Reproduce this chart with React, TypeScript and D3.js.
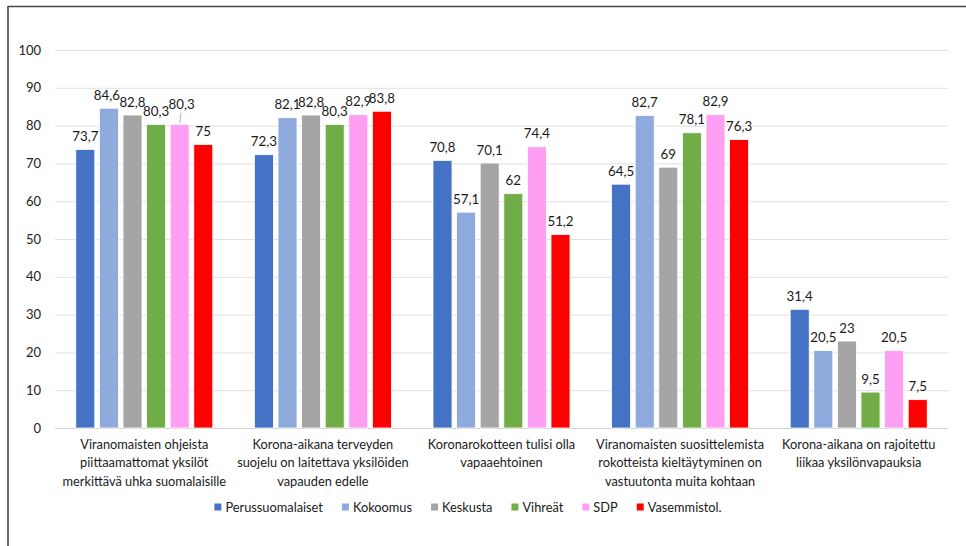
import React, { useEffect, useRef } from "react";
import * as d3 from "d3";

const categories: string[][] = [
  ["Viranomaisten ohjeista", "piittaamattomat yksilöt", "merkittävä uhka suomalaisille"],
  ["Korona-aikana terveyden", "suojelu on laitettava yksilöiden", "vapauden edelle"],
  ["Koronarokotteen tulisi olla", "vapaaehtoinen"],
  ["Viranomaisten suosittelemista", "rokotteista kieltäytyminen on", "vastuutonta muita kohtaan"],
  ["Korona-aikana on rajoitettu", "liikaa yksilönvapauksia"],
];

const seriesNames = ["Perussuomalaiset", "Kokoomus", "Keskusta", "Vihreät", "SDP", "Vasemmistol."];
const seriesColors = ["#4472C4", "#8FAADC", "#A5A5A5", "#70AD47", "#FF9FF3", "#FF0000"];

const perussuomalaiset = [73.7, 72.3, 70.8, 64.5, 31.4];
const kokoomus = [84.6, 82.1, 57.1, 82.7, 20.5];
const keskusta = [82.8, 82.8, 70.1, 69, 23];
const vihreat = [80.3, 80.3, 62, 78.1, 9.5];
const sdp = [80.3, 82.9, 74.4, 82.9, 20.5];
const vasemmisto = [75, 83.8, 51.2, 76.3, 7.5];

const seriesValues = [perussuomalaiset, kokoomus, keskusta, vihreat, sdp, vasemmisto];
const yTicks = [0, 10, 20, 30, 40, 50, 60, 70, 80, 90, 100];

const FONT = "Lato, 'Open Sans', sans-serif";

export default function App() {
  const ref = useRef<SVGSVGElement>(null);

  useEffect(() => {
    const svg = d3.select(ref.current);
    svg.selectAll("*").remove();

    const left = 55, right = 948, top = 50, bottom = 428;
    const y = d3.scaleLinear().domain([0, 100]).range([bottom, top]);
    const x0 = d3.scaleBand<number>().domain(d3.range(categories.length)).range([left, right]).padding(0);
    const gw = x0.bandwidth();
    const x1 = d3.scaleBand<number>().domain(d3.range(seriesNames.length)).range([20.8, gw - 20.8]).paddingInner(0.195).paddingOuter(0);

    // frame
    svg.append("line").attr("x1", 8).attr("x2", 8).attr("y1", 6).attr("y2", 546).attr("stroke", "#4a4a4a").attr("stroke-width", 1.6);
    svg.append("line").attr("x1", 8).attr("x2", 966).attr("y1", 6.5).attr("y2", 6.5).attr("stroke", "#4a4a4a").attr("stroke-width", 1.6);

    // grid
    const g = svg.append("g");
    g.selectAll("line.grid").data(yTicks).enter().append("line")
      .attr("x1", left).attr("x2", right)
      .attr("y1", (d) => y(d) + 0.5).attr("y2", (d) => y(d) + 0.5)
      .attr("stroke", (d) => (d === 0 ? "#d0d0d0" : "#e0e0e0")).attr("stroke-width", 1);
    g.selectAll("text.tick").data(yTicks).enter().append("text")
      .attr("x", 41).attr("y", (d) => y(d) + 4.5)
      .attr("text-anchor", "end").attr("font-family", FONT).attr("font-size", 13).attr("fill", "#222")
      .text((d) => String(d));

    // bars
    seriesValues.forEach((vals, si) => {
      const sg = svg.append("g");
      sg.selectAll("rect").data(vals).enter().append("rect")
        .attr("x", (_, ci) => x0(ci)! + x1(si)!)
        .attr("y", (d) => y(d))
        .attr("width", x1.bandwidth())
        .attr("height", (d) => bottom - y(d))
        .attr("fill", seriesColors[si])
        .attr("stroke", "#ffffff").attr("stroke-width", 0.8);
    });

    // labels
    seriesValues.forEach((vals, si) => {
      vals.forEach((v, ci) => {
        const cx = x0(ci)! + x1(si)! + x1.bandwidth() / 2;
        let dy = 0;
        let dx = 0;
        const crowded = ci === 0 && si === 4;
        if (crowded) { dy = -7; dx = 2; }
        if (ci === 0 && si === 1) dx = -2;
        svg.append("text")
          .attr("x", cx + dx).attr("y", y(v) - 8.5 + dy)
          .attr("text-anchor", "middle").attr("font-family", FONT).attr("font-size", 13.3).attr("fill", "#1a1a1a")
          .text(String(v).replace(".", ","));
        if (crowded) {
          svg.append("line")
            .attr("x1", cx + 1.5).attr("y1", y(v) - 12)
            .attr("x2", cx).attr("y2", y(v) - 1)
            .attr("stroke", "#a6a6a6").attr("stroke-width", 0.8);
        }
      });
    });

    // category labels
    categories.forEach((lines, ci) => {
      const cx = x0(ci)! + gw / 2;
      lines.forEach((line, li) => {
        svg.append("text")
          .attr("x", cx).attr("y", 449 + li * 18.3)
          .attr("text-anchor", "middle").attr("font-family", FONT).attr("font-size", 12.8).attr("fill", "#1a1a1a")
          .text(line);
      });
    });

    // legend
    const lg = svg.append("g");
    const items: { g: any; w: number }[] = [];
    seriesNames.forEach((name, si) => {
      const ig = lg.append("g");
      ig.append("rect").attr("x", 0).attr("y", -3.5).attr("width", 7).attr("height", 7).attr("fill", seriesColors[si]);
      const t = ig.append("text").attr("x", 11).attr("y", 4.8)
        .attr("font-family", FONT).attr("font-size", 12.8).attr("fill", "#1a1a1a").text(name);
      const w = 11 + (t.node() as SVGTextElement).getComputedTextLength();
      items.push({ g: ig, w });
    });
    const gap = 19;
    const total = items.reduce((s, it) => s + it.w, 0) + gap * (items.length - 1);
    let xpos = 468 - total / 2;
    items.forEach((it) => {
      it.g.attr("transform", `translate(${xpos},507)`);
      xpos += it.w + gap;
    });
  }, []);

  return (
    <svg ref={ref} width={966} height={546}
      style={{ position: "absolute", left: 0, top: 0, background: "#fff" }} />
  );
}
